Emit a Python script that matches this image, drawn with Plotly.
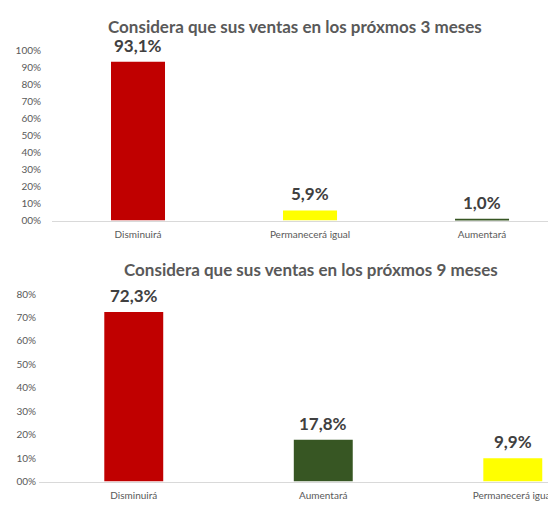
import plotly.graph_objects as go

# The page body has an 8px margin, so the figure is drawn 8px in from the top-left.
OFF = 8
W, H = 556 - OFF, 508 - OFF

# ---- data ----
title1 = "Considera que sus ventas en los próxmos 3 meses"
cats1 = ["Disminuirá", "Permanecerá igual", "Aumentará"]
vals1 = [0.931, 0.059, 0.010]
labels1 = ["93,1%", "5,9%", "1,0%"]
colors1 = ["#C00000", "#FFFF00", "#375623"]
yticks1 = [0, 0.1, 0.2, 0.3, 0.4, 0.5, 0.6, 0.7, 0.8, 0.9, 1.0]
yticktext1 = ["00%", "10%", "20%", "30%", "40%", "50%", "60%", "70%", "80%", "90%", "100%"]

title2 = "Considera que sus ventas en los próxmos 9 meses"
cats2 = ["Disminuirá", "Aumentará", "Permanecerá igual"]
vals2 = [0.723, 0.178, 0.099]
labels2 = ["72,3%", "17,8%", "9,9%"]
colors2 = ["#C00000", "#375623", "#FFFF00"]
yticks2 = [0, 0.1, 0.2, 0.3, 0.4, 0.5, 0.6, 0.7, 0.8]
yticktext2 = ["00%", "10%", "20%", "30%", "40%", "50%", "60%", "70%", "80%"]

FONT = "Lato"
TXT = "#595959"
LBL = "#404040"

def px(x):
    return (x - OFF) / W

def py(y):
    return 1 - (y - OFF) / H

fig = go.Figure()
fig.add_trace(go.Bar(x=cats1, y=vals1, marker=dict(color=colors1, line=dict(width=0)),
                     width=0.314, xaxis="x", yaxis="y", showlegend=False, hoverinfo="skip"))
fig.add_trace(go.Bar(x=cats2, y=vals2, marker=dict(color=colors2, line=dict(width=0)),
                     width=0.311, xaxis="x2", yaxis="y2", showlegend=False, hoverinfo="skip"))

annotations = []
for c, v, t in zip(cats1, vals1, labels1):
    annotations.append(dict(x=c, y=v, xref="x", yref="y", text=t, showarrow=False,
                            yanchor="bottom", yshift=4,
                            font=dict(family=FONT, size=17, color=LBL, weight="bold")))
for c, v, t in zip(cats2, vals2, labels2):
    annotations.append(dict(x=c, y=v, xref="x2", yref="y2", text=t, showarrow=False,
                            yanchor="bottom", yshift=4,
                            font=dict(family=FONT, size=17, color=LBL, weight="bold")))
annotations.append(dict(x=px(294.5), y=py(19.5), xref="paper", yref="paper", text=title1,
                        showarrow=False, xanchor="center", yanchor="middle",
                        font=dict(family=FONT, size=17, color=TXT, weight="bold")))
annotations.append(dict(x=px(311), y=py(269.5), xref="paper", yref="paper", text=title2,
                        showarrow=False, xanchor="center", yanchor="middle",
                        font=dict(family=FONT, size=17, color=TXT, weight="bold")))

xcommon = dict(type="category", showgrid=False, zeroline=False, showline=True,
               linecolor="#D9D9D9", linewidth=1, ticks="outside", ticklen=4,
               tickcolor="rgba(0,0,0,0)", tickfont=dict(family=FONT, size=10, color=TXT),
               fixedrange=True)
ycommon = dict(showgrid=False, zeroline=False, showline=False, ticks="",
               tickfont=dict(family=FONT, size=10, color=TXT), fixedrange=True)

fig.update_layout(
    width=W, height=H,
    margin=dict(l=0, r=0, t=0, b=0),
    paper_bgcolor="white", plot_bgcolor="white",
    bargap=0.686,
    xaxis=dict(domain=[px(52), 1], range=[-0.5, 2.43], anchor="y", **xcommon),
    yaxis=dict(domain=[py(219), py(44)], range=[0, 1.0], anchor="x",
               tickvals=yticks1, ticktext=yticktext1, ticklabelstandoff=10, **ycommon),
    xaxis2=dict(domain=[px(39), 1], range=[-0.5, 2.228], anchor="y2", **xcommon),
    yaxis2=dict(domain=[py(487), py(294.5)], range=[0, 0.8], anchor="x2",
                tickvals=yticks2, ticktext=yticktext2, ticklabelstandoff=2, **ycommon),
    annotations=annotations,
)
fig.update_traces(cliponaxis=False)

fig.write_html("out.html")
